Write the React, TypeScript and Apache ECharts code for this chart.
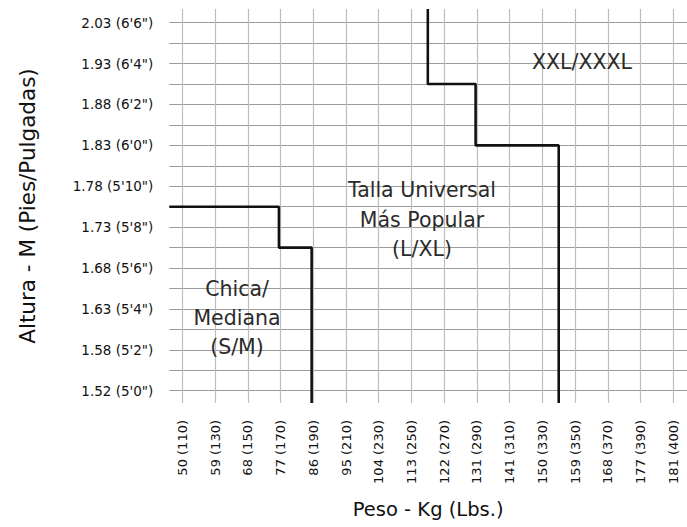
import React, { useEffect, useRef } from "react";
import * as echarts from "echarts";

// ---- data ----
const weightKg = [50, 59, 68, 77, 86, 95, 104, 113, 122, 131, 141, 150, 159, 168, 177, 181];
const weightLbs = [110, 130, 150, 170, 190, 210, 230, 250, 270, 290, 310, 330, 350, 370, 390, 400];
const weightIndex = weightKg.map((_, i) => i);

const heightGridInches = [60, 61, 62, 63, 64, 65, 66, 67, 68, 69, 70, 71, 72, 73, 74, 75, 76, 77, 78];
const heightLabelInches = [60, 62, 64, 66, 68, 70, 72, 74, 76, 78];
const heightLabels = [
  "1.52 (5'0\")",
  "1.58 (5'2\")",
  "1.63 (5'4\")",
  "1.68 (5'6\")",
  "1.73 (5'8\")",
  "1.78 (5'10\")",
  "1.83 (6'0\")",
  "1.88 (6'2\")",
  "1.93 (6'4\")",
  "2.03 (6'6\")",
];

// boundary S/M -> L/XL : [weight index, height inches]
const smallBoundary: [number, number][] = [
  [-0.4, 69],
  [2.95, 69],
  [2.95, 67],
  [3.95, 67],
  [3.95, 59.4],
];
// boundary L/XL -> XXL/XXXL
const largeBoundary: [number, number][] = [
  [7.5, 78.67],
  [7.5, 75],
  [8.96, 75],
  [8.96, 72],
  [11.5, 72],
  [11.5, 59.4],
];

const FONT = "DejaVu Sans";

export default function App() {
  const ref = useRef<HTMLDivElement>(null);
  useEffect(() => {
    if (!ref.current) return;
    const chart = echarts.init(ref.current, undefined, { renderer: "svg" });
    chart.setOption({
      animation: false,
      backgroundColor: "#ffffff",
      grid: { left: 169.3, right: 0, top: 9, bottom: 124, containLabel: false },
      xAxis: {
        type: "value",
        min: -0.4,
        max: 15.42,
        name: "Peso - Kg (Lbs.)",
        nameLocation: "middle",
        nameGap: 96,
        nameTextStyle: { fontFamily: FONT, fontSize: 19.5, color: "#111" },
        axisLine: { show: false },
        axisTick: { show: false, customValues: weightIndex },
        axisLabel: {
          customValues: weightIndex,
          rotate: 90,
          margin: 17,
          fontFamily: FONT,
          fontSize: 13,
          color: "#111",
          formatter: (v: number) => {
            const i = Math.round(v);
            return `${weightKg[i]} (${weightLbs[i]})`;
          },
        },
        splitLine: { show: true, lineStyle: { color: "#bdbdbd", width: 1.2 } },
      },
      yAxis: {
        type: "value",
        min: 59.4,
        max: 78.67,
        name: "Altura - M (Pies/Pulgadas)",
        nameLocation: "middle",
        nameGap: 131,
        nameRotate: 90,
        nameTextStyle: { fontFamily: FONT, fontSize: 21.5, color: "#111" },
        axisLine: { show: false },
        axisTick: { show: false, customValues: heightGridInches },
        axisLabel: {
          customValues: heightLabelInches,
          margin: 16,
          fontFamily: FONT,
          fontSize: 13.5,
          color: "#111",
          formatter: (v: number) => {
            const i = heightLabelInches.indexOf(Math.round(v));
            return i >= 0 ? heightLabels[i] : "";
          },
        },
        splitLine: { show: true, lineStyle: { color: "#9c9c9c", width: 1.2 } },
      },
      series: [
        {
          type: "line",
          data: smallBoundary,
          symbol: "none",
          lineStyle: { color: "#111", width: 2.6 },
          silent: true,
          z: 5,
        },
        {
          type: "line",
          data: largeBoundary,
          symbol: "none",
          lineStyle: { color: "#111", width: 2.6 },
          silent: true,
          z: 5,
        },
      ],
      graphic: [
        {
          type: "text",
          x: 422,
          y: 219.5,
          z: 10,
          style: {
            text: "Talla Universal\nMás Popular\n(L/XL)",
            fontFamily: FONT,
            fontSize: 20.5,
            lineHeight: 29.5,
            fill: "#2b2b2b",
            align: "center",
            verticalAlign: "middle",
          },
        },
        {
          type: "text",
          x: 237,
          y: 318,
          z: 10,
          style: {
            text: "Chica/\nMediana\n(S/M)",
            fontFamily: FONT,
            fontSize: 20.5,
            lineHeight: 29,
            fill: "#2b2b2b",
            align: "center",
            verticalAlign: "middle",
          },
        },
        {
          type: "text",
          x: 582,
          y: 62,
          z: 10,
          style: {
            text: "XXL/XXXL",
            fontFamily: FONT,
            fontSize: 20.5,
            fill: "#2b2b2b",
            align: "center",
            verticalAlign: "middle",
          },
        },
      ],
    });
    return () => chart.dispose();
  }, []);
  return (
    <div
      ref={ref}
      style={{ position: "absolute", left: 0, top: 0, width: 687, height: 527 }}
    />
  );
}
